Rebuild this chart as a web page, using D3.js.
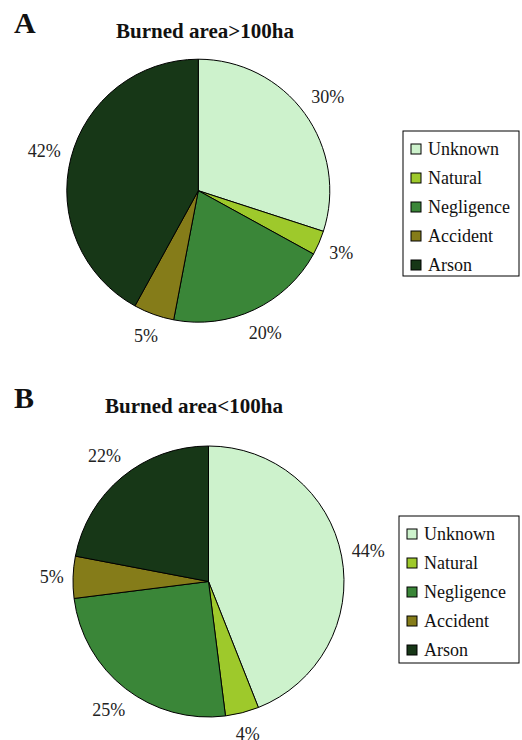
<!DOCTYPE html>
<html>
<head>
<meta charset="utf-8">
<script src="https://cdn.jsdelivr.net/npm/d3@7/dist/d3.min.js"></script>
<style>
  html, body { margin: 0; padding: 0; background: #fff; }
  svg { display: block; }
</style>
</head>
<body>
<svg id="chart" width="522" height="740" font-family="'Liberation Serif', 'Times New Roman', serif"></svg>
<script>
// Causes of fire, shared by both panels
const causes = ["Unknown", "Natural", "Negligence", "Accident", "Arson"];
const causeColors = ["#cdf2cc", "#9ec92b", "#3a8638", "#857c19", "#173717"];

// Share of fires (%) by cause
const largeFires = [30, 3, 20, 5, 42];   // burned area > 100 ha
const smallFires = [44, 4, 25, 5, 22];   // burned area < 100 ha

const panels = [
  { letter: "A", title: "Burned area>100ha", values: largeFires,
    cx: 198.3, cy: 190.7, r: 131.5, letterY: 33, titleX: 205, titleY: 38,
    legend: { x: 403, y: 131, w: 116, h: 145 } },
  { letter: "B", title: "Burned area<100ha", values: smallFires,
    cx: 208.5, cy: 581.5, r: 135.5, letterY: 408, titleX: 194, titleY: 413,
    legend: { x: 399, y: 516, w: 120, h: 147 } }
];

const svg = d3.select("#chart");
const color = d3.scaleOrdinal().domain(causes).range(causeColors);

const pie = d3.pie()
  .value(d => d.value)
  .sort(null)
  .startAngle(0)
  .endAngle(2 * Math.PI);

const labelGap = 9;       // space between rim and label box
const labelBoxH = 21;     // line box height of a percentage label

panels.forEach(p => {
  const g = svg.append("g");

  g.append("text")
    .attr("x", 14).attr("y", p.letterY)
    .attr("font-size", 30).attr("font-weight", "bold").attr("fill", "#111")
    .text(p.letter);

  g.append("text")
    .attr("x", p.titleX).attr("y", p.titleY)
    .attr("text-anchor", "middle")
    .attr("font-size", 21).attr("font-weight", "bold").attr("fill", "#111")
    .text(p.title);

  const data = causes.map((c, i) => ({ cause: c, value: p.values[i] }));
  const arcs = pie(data);
  const arc = d3.arc().innerRadius(0).outerRadius(p.r);

  const pieG = g.append("g").attr("transform", `translate(${p.cx},${p.cy})`);
  pieG.selectAll("path")
    .data(arcs)
    .join("path")
    .attr("d", arc)
    .attr("fill", d => color(d.data.cause))
    .attr("stroke", "#000")
    .attr("stroke-width", 1);

  // Percentage labels sit outside the rim; the label box is pushed out
  // along the mid-angle by its own half extent in that direction.
  pieG.selectAll("text.pct")
    .data(arcs)
    .join("text")
    .attr("class", "pct")
    .attr("text-anchor", "middle")
    .attr("dominant-baseline", "central")
    .attr("font-size", 18)
    .attr("fill", "#222")
    .text(d => d.data.value + "%")
    .each(function (d) {
      const w = this.getComputedTextLength();
      const a = (d.startAngle + d.endAngle) / 2;
      const dx = Math.sin(a), dy = -Math.cos(a);
      const ext = Math.abs(dx) * w / 2 + Math.abs(dy) * labelBoxH / 2;
      const dist = p.r + labelGap + ext;
      d3.select(this).attr("transform", `translate(${dx * dist},${dy * dist})`);
    });

  // Legend
  const L = p.legend;
  const lg = g.append("g").attr("transform", `translate(${L.x},${L.y})`);
  lg.append("rect")
    .attr("width", L.w).attr("height", L.h)
    .attr("fill", "#fff").attr("stroke", "#000").attr("stroke-width", 1);
  const step = 29;
  const items = lg.selectAll("g.item")
    .data(causes)
    .join("g")
    .attr("class", "item")
    .attr("transform", (d, i) => `translate(8,${18 + i * step})`);
  items.append("rect")
    .attr("x", 0).attr("y", -5).attr("width", 10).attr("height", 10)
    .attr("fill", d => color(d)).attr("stroke", "#000").attr("stroke-width", 1);
  items.append("text")
    .attr("x", 17).attr("y", 0)
    .attr("dominant-baseline", "central")
    .attr("font-size", 18).attr("fill", "#111")
    .text(d => d);
});
</script>
</body>
</html>
